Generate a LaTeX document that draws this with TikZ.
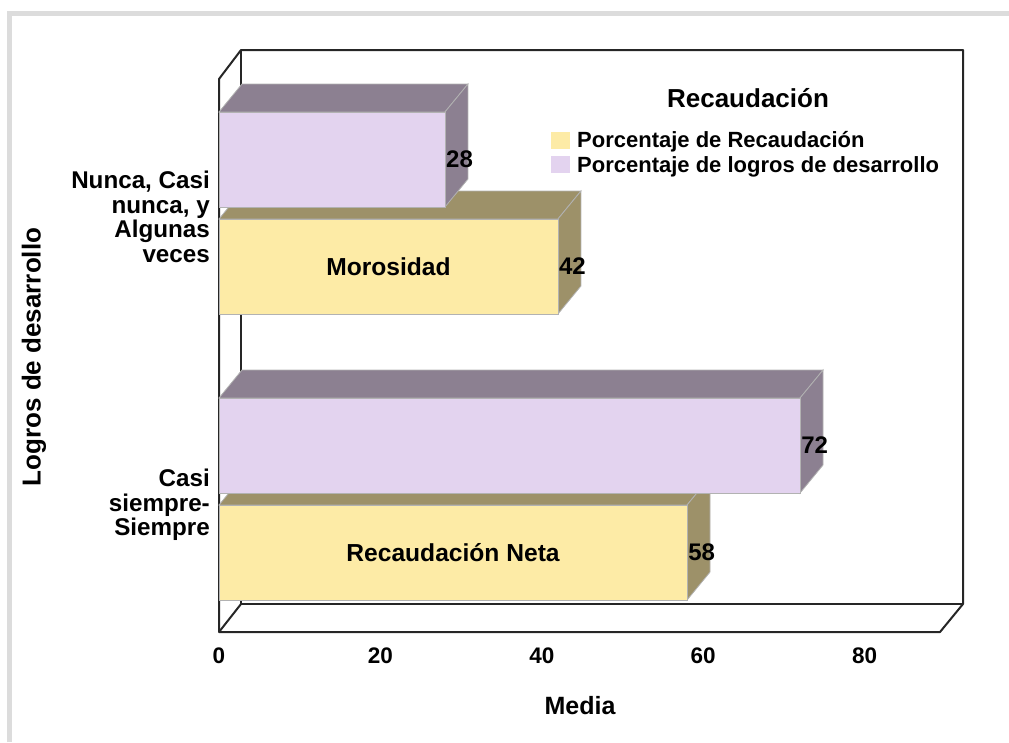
\documentclass[tikz,border=0pt]{standalone}
\usepackage{fontspec}
\setmainfont{Liberation Sans}
\usepackage{tikz}
\usepackage{xcolor}
\usetikzlibrary{positioning}

\definecolor{lilaF}{HTML}{E3D3EF}
\definecolor{lilaD}{HTML}{8C8091}
\definecolor{amarF}{HTML}{FDEBA6}
\definecolor{amarD}{HTML}{9D9169}
\definecolor{marco}{HTML}{DCDCDC}

% 3D bar: #1 top of front face, #2 value, #3 light colour, #4 dark colour, #5 name
\newcommand{\cubebar}[5]{%
\pgfmathsetmacro{\xe}{219+8.07*#2}
\filldraw [barline,fill=#4] (219,#1) -- (242,#1-28) -- (\xe+23,#1-28) -- (\xe,#1) -- cycle;
\filldraw [barline,fill=#4] (\xe,#1) -- (\xe+23,#1-28) -- (\xe+23,#1+67) -- (\xe,#1+95) -- cycle;
\filldraw [barline,fill=#3] (219,#1) rectangle (\xe,#1+95);
\coordinate (#5) at ({(219+\xe)/2},#1+47.5);
\node [vallbl,anchor=west] (#5val) at (\xe+1,#1+47.5) {#2};
}

\begin{document}
\begin{tikzpicture}[x=1pt,y=-1pt]
\tikzstyle{every node}+=[inner sep=0pt]
\tikzstyle{barline}=[draw=black!30,line width=0.8pt]
\tikzstyle{frame3d}=[draw=black!85,line width=2pt,line join=round]
\tikzstyle{catlbl}=[font=\bfseries\fontsize{24.2}{24.5}\selectfont,align=right,anchor=east]
\tikzstyle{vallbl}=[font=\bfseries\fontsize{24}{24}\selectfont]
\tikzstyle{inlbl}=[font=\bfseries\fontsize{24.6}{26}\selectfont]
\tikzstyle{ticklbl}=[font=\bfseries\fontsize{22.5}{24}\selectfont]
\tikzstyle{legtxt}=[font=\bfseries\fontsize{22}{24}\selectfont,anchor=base west]
\useasboundingbox (0,0) rectangle (1009,742);
% outer frame
\draw [marco,line width=5pt] (9.5,742) -- (9.5,13.5) -- (1009,13.5);
% 3d box
\draw [frame3d] (219,632) -- (219,79) -- (241,50) -- (963,50) -- (963,604) -- (940,632) -- cycle;
\draw [frame3d] (241,50) -- (241,604) -- (963,604);
\draw [frame3d] (219,632) -- (241,604);
% bars
\cubebar{219}{42}{amarF}{amarD}{mor}
\cubebar{112}{28}{lilaF}{lilaD}{nun}
\cubebar{505}{58}{amarF}{amarD}{rec}
\cubebar{398}{72}{lilaF}{lilaD}{sie}
\node [inlbl] (morLbl) at (mor) {Morosidad};
\node [inlbl] (recLbl) at (rec) {Recaudación Neta};
% categories
\node [catlbl] (catA) at (210,217) {Nunca, Casi\\nunca, y\\Algunas\\veces};
\node [catlbl] (catB) at (210,505) {Casi\\siempre-\\Siempre};
% x axis
\foreach \v in {0,20,40,60,80}
  \node [ticklbl] (t\v) at ({219+8.07*\v},656) {\v};
\node [font=\bfseries\fontsize{25}{27}\selectfont] (xTitle) at (580,706) {Media};
\node [font=\bfseries\fontsize{26}{28}\selectfont,rotate=90] (yTitle) at (34,357) {Logros de desarrollo};
% legend
\node [font=\bfseries\fontsize{26}{28}\selectfont] (legTitle) at (748,98) {Recaudación};
\fill [amarF] (551,132) rectangle (570,149);
\node [legtxt] (legAmar) at (577,147) {Porcentaje de Recaudación};
\fill [lilaF] (551,156) rectangle (570,173);
\node [legtxt] (legLila) at (577,172) {Porcentaje de logros de desarrollo};
\end{tikzpicture}
\end{document}
